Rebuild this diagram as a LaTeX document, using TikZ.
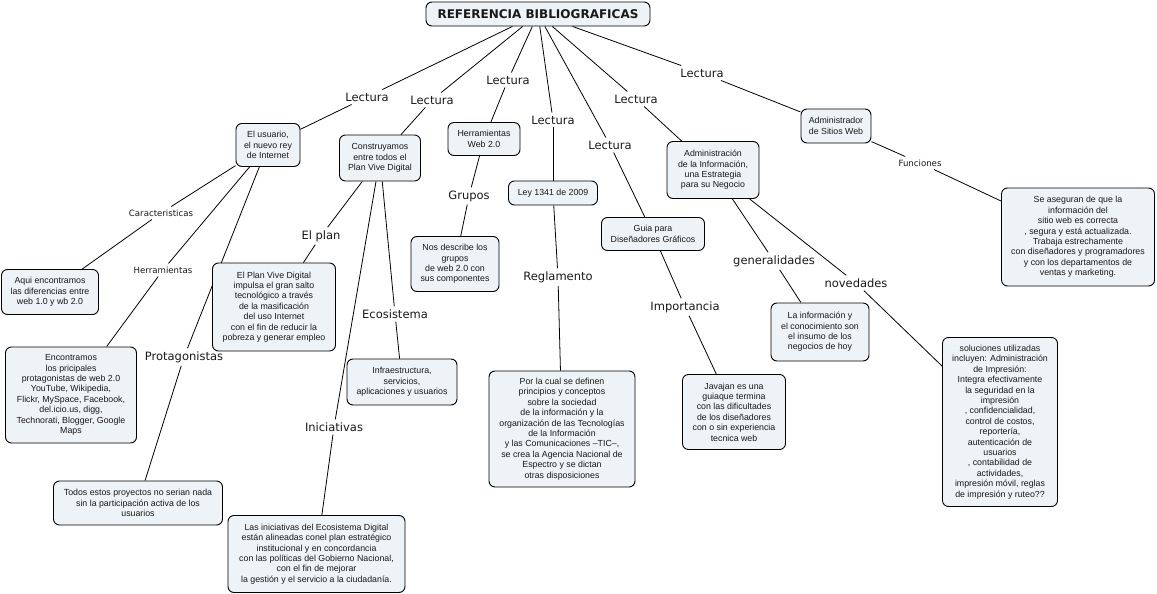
\documentclass[tikz,border=0pt]{standalone}
\usepackage{fontspec}
\setmainfont{Liberation Sans}
\newfontfamily\lblfont{DejaVu Sans}
\usetikzlibrary{backgrounds}
\definecolor{boxfill}{RGB}{237,243,246}
\definecolor{txt}{RGB}{25,25,25}
\tikzset{
 cbox/.style={draw=black, line width=0.9pt, rounded corners=6pt, fill=boxfill, align=center, inner sep=0pt, font=\fontsize{8.8}{10.4}\selectfont, text=txt},
 biglbl/.style={font=\lblfont\fontsize{11.5}{13}\selectfont, inner sep=3pt, text=txt},
 smalllbl/.style={font=\lblfont\fontsize{8.6}{10}\selectfont, inner sep=3pt, text=txt},
 con/.style={draw=black, line width=0.8pt},
}
\begin{document}
\begin{tikzpicture}[x=1pt,y=-1pt]
\useasboundingbox (0,0) rectangle (1157,594);
% boxes
\node[cbox, minimum width=224, minimum height=24, font=\lblfont\bfseries\fontsize{12}{14}\selectfont] (title) at (538,14) {REFERENCIA BIBLIOGRAFICAS};
\node[cbox, minimum width=64, minimum height=43] (usuario) at (268,145) {El usuario,\\ el nuevo rey\\ de Internet};
\node[cbox, minimum width=81, minimum height=46] (constr) at (380,158) {Construyamos\\entre todos el\\Plan Vive Digital};
\node[cbox, minimum width=72, minimum height=33] (herr) at (484,139) {Herramientas\\Web 2.0};
\node[cbox, minimum width=89, minimum height=24] (ley) at (553,193) {Ley 1341 de 2009};
\node[cbox, minimum width=103, minimum height=33] (guia) at (653,234) {Guia para\\Diseñadores Gráficos};
\node[cbox, minimum width=92, minimum height=57] (adminf) at (713,170) {Administración\\de la Información,\\una Estrategia\\para su Negocio};
\node[cbox, minimum width=70, minimum height=34] (adminsw) at (836,126) {Administrador\\de Sitios Web};
\node[cbox, minimum width=153, minimum height=98] (aseg) at (1078,237) {Se aseguran de que la\\información del\\sitio web es correcta\\, segura y está actualizada.\\Trabaja estrechamente\\con diseñadores y programadores\\y con los departamentos de\\ventas y marketing.};
\node[cbox, minimum width=97, minimum height=45] (aqui) at (50,292) {Aqui encontramos\\las diferencias entre\\web 1.0 y wb 2.0};
\node[cbox, minimum width=131, minimum height=96] (encontr) at (71,395) {Encontramos\\los pricipales\\protagonistas de web 2.0\\YouTube, Wikipedia,\\Flickr, MySpace, Facebook,\\del.icio.us, digg,\\Technorati, Blogger, Google\\Maps};
\node[cbox, minimum width=123, minimum height=88] (planvd) at (274,307) {El Plan Vive Digital\\impulsa el gran salto\\tecnológico a través\\de la masificación\\del uso Internet\\con el fin de reducir la\\pobreza y generar empleo};
\node[cbox, minimum width=88, minimum height=55] (nosdesc) at (455,264) {Nos describe los\\grupos\\de web 2.0 con\\sus componentes};
\node[cbox, minimum width=110, minimum height=46] (infra) at (402,382) {Infraestructura,\\servicios,\\aplicaciones y usuarios};
\node[cbox, minimum width=146, minimum height=116] (porla) at (562,429) {Por la cual se definen\\principios y conceptos\\sobre la sociedad\\de la información y la\\organización de las Tecnologías\\de la Información\\y las Comunicaciones –TIC–,\\se crea la Agencia Nacional de\\Espectro y se dictan\\otras disposiciones};
\node[cbox, minimum width=103, minimum height=75] (javajan) at (734,412) {Javajan es una\\guiaque termina\\con las dificultades\\de los diseñadores\\con o sin experiencia\\tecnica web};
\node[cbox, minimum width=98, minimum height=58] (lainfo) at (820,332) {La información y\\el conocimiento son\\el insumo de los\\negocios de hoy};
\node[cbox, minimum width=115, minimum height=169] (soluc) at (1000,422) {soluciones utilizadas\\incluyen: Administración\\de Impresión:\\Integra efectivamente\\la seguridad en la\\impresión\\, confidencialidad,\\control de costos,\\reportería,\\autenticación de\\usuarios\\, contabilidad de\\actividades,\\impresión móvil, reglas\\de impresión y ruteo??};
\node[cbox, minimum width=169, minimum height=44] (todos) at (138,503) {Todos estos proyectos no serian nada\\sin la participación activa de los\\usuarios};
\node[cbox, minimum width=177, minimum height=77] (inic) at (316.5,554) {Las iniciativas del Ecosistema Digital\\están alineadas conel plan estratégico\\institucional y en concordancia\\con las políticas del Gobierno Nacional,\\con el fin de mejorar\\la gestión y el servicio a la ciudadanía.};
% labels
\node[biglbl] (l1) at (367,97) {Lectura};
\node[biglbl] (l2) at (432,100) {Lectura};
\node[biglbl] (l3) at (508,80) {Lectura};
\node[biglbl] (l4) at (553,120) {Lectura};
\node[biglbl] (l5) at (610,145) {Lectura};
\node[biglbl] (l6) at (636,99) {Lectura};
\node[biglbl] (l7) at (702,73) {Lectura};
\node[smalllbl] (carac) at (161,213) {Caracteristicas};
\node[smalllbl] (herrl) at (163,270) {Herramientas};
\node[smalllbl] (func) at (920,163) {Funciones};
\node[biglbl] (elplan) at (321,236) {El plan};
\node[biglbl] (grupos) at (469,196) {Grupos};
\node[biglbl] (regl) at (558,277) {Reglamento};
\node[biglbl] (ecos) at (395,314) {Ecosistema};
\node[biglbl] (prot) at (184,357) {Protagonistas};
\node[biglbl] (inicl) at (334,427) {Iniciativas};
\node[biglbl] (impo) at (685,307) {Importancia};
\node[biglbl] (gene) at (774,261) {generalidades};
\node[biglbl] (nove) at (856,283) {novedades};
% connectors
\begin{scope}[on background layer]
\fill[white] (0,0) rectangle (1157,594);
\draw[con] (title) -- (l1); \draw[con] (l1) -- (usuario);
\draw[con] (title) -- (l2); \draw[con] (l2) -- (constr);
\draw[con] (title) -- (l3); \draw[con] (l3) -- (herr);
\draw[con] (title) -- (l4); \draw[con] (l4) -- (ley);
\draw[con] (title) -- (l5); \draw[con] (l5) -- (guia);
\draw[con] (title) -- (l6); \draw[con] (l6) -- (adminf);
\draw[con] (title) -- (l7); \draw[con] (l7) -- (adminsw);
\draw[con] (usuario) -- (carac); \draw[con] (carac) -- (aqui);
\draw[con] (usuario) -- (herrl); \draw[con] (herrl) -- (encontr);
\draw[con] (usuario) -- (prot); \draw[con] (prot) -- (todos);
\draw[con] (constr) -- (elplan); \draw[con] (elplan) -- (planvd);
\draw[con] (constr) -- (ecos); \draw[con] (ecos) -- (infra);
\draw[con] (constr) -- (inicl); \draw[con] (inicl) -- (inic);
\draw[con] (herr) -- (grupos); \draw[con] (grupos) -- (nosdesc);
\draw[con] (ley) -- (regl); \draw[con] (regl) -- (porla);
\draw[con] (guia) -- (impo); \draw[con] (impo) -- (javajan);
\draw[con] (adminf) -- (gene); \draw[con] (gene) -- (lainfo);
\draw[con] (adminf) -- (nove); \draw[con] (nove) -- (soluc);
\draw[con] (adminsw) -- (func); \draw[con] (func) -- (aseg);
\end{scope}
\end{tikzpicture}
\end{document}
